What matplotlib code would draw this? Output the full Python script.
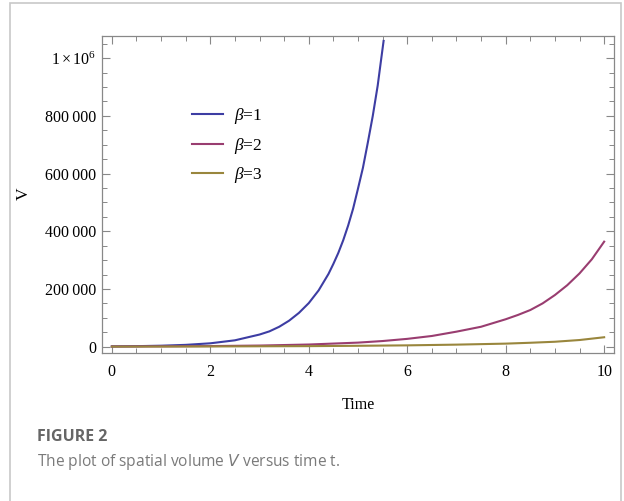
import matplotlib
matplotlib.use("Agg")
import matplotlib.pyplot as plt
from matplotlib.patches import Rectangle
from matplotlib.ticker import MultipleLocator, FixedLocator

# values
blue_t = [0, 0.5, 1, 1.5, 2, 2.5, 3, 3.2, 3.4, 3.6, 3.8, 4.0, 4.2, 4.4, 4.5, 4.6, 4.7, 4.8, 4.9,
          5.0, 5.1, 5.2, 5.3, 5.4, 5.45, 5.52]
blue_v = [900, 1700, 3300, 6200, 11600, 22000, 42000, 53000, 69000, 90000, 117000, 151000, 195000,
          252000, 287000, 325000, 369000, 420000, 478000, 548000, 620000, 708000, 800000, 905000,
          970000, 1060000]
red_t = [0, 1, 2, 3, 4, 5, 5.5, 6, 6.5, 7, 7.5, 8, 8.25, 8.5, 8.75, 9, 9.25, 9.5, 9.75, 10]
red_v = [550, 1050, 2000, 3800, 7400, 14000, 19500, 27000, 37000, 52000, 69000, 95000, 110000,
         127000, 150000, 179000, 213000, 254000, 303000, 364000]
yel_t = [0, 2, 4, 5, 6, 7, 8, 8.5, 9, 9.5, 10]
yel_v = [200, 700, 1800, 3000, 4500, 7000, 10500, 13500, 17000, 23000, 32600]

labels = [r"$\beta$=1", r"$\beta$=2", r"$\beta$=3"]
colors = ["#3d3da3", "#993d70", "#99863d"]

y_ticks = [0, 200000, 400000, 600000, 800000, 1000000]
y_tick_labels = ["0", "200\u2009000", "400\u2009000", "600\u2009000", "800\u2009000", r"$1\times10^{6}$"]

plt.rcParams["font.family"] = ["Liberation Serif", "DejaVu Serif"]
plt.rcParams["mathtext.fontset"] = "custom"
plt.rcParams["mathtext.rm"] = "Liberation Serif"
plt.rcParams["mathtext.it"] = "Liberation Serif:italic"

fig = plt.figure(figsize=(6.24, 5.01), dpi=100)
fig.patches.append(Rectangle((10 / 624, -0.05), 611 / 624, 1 - 3 / 501 + 0.05, transform=fig.transFigure,
                             fill=False, edgecolor="#c8c8c8", linewidth=1.2))

ax = fig.add_axes([102 / 624, 1 - 353 / 501, 512 / 624, 317 / 501])
series = [(blue_t, blue_v), (red_t, red_v), (yel_t, yel_v)]
for (t, v), c, lab in zip(series, colors, labels):
    ax.plot(t, v, color=c, linewidth=1.5, label=lab)

ax.set_xlim(-0.2, 10.2)
ax.set_ylim(-22000, 1077000)

ax.xaxis.set_major_locator(MultipleLocator(2))
ax.xaxis.set_minor_locator(MultipleLocator(0.5))
ax.yaxis.set_major_locator(FixedLocator(y_ticks))
ax.yaxis.set_minor_locator(MultipleLocator(50000))
ax.set_yticklabels(y_tick_labels)

ax.tick_params(which="both", direction="in", top=True, right=True, color="#888888", labelsize=11.5)
ax.tick_params(which="major", length=6, width=0.8)
ax.tick_params(which="minor", length=3.5, width=0.7)
ax.tick_params(axis="x", pad=8)
ax.tick_params(axis="y", pad=4)
for s in ax.spines.values():
    s.set_color("#888888")
    s.set_linewidth(0.9)

ax.set_xlabel("Time", fontsize=11.5, labelpad=12)
ax.set_ylabel("V", fontsize=12.5)
ax.yaxis.set_label_coords(-70 / 512, (353 - 194) / 317)

ax.legend(loc="upper left", bbox_to_anchor=(0.145, 0.828), frameon=False, fontsize=12.5,
          handlelength=1.8, handletextpad=0.6, labelspacing=0.55)

fig.text(37 / 624, 1 - 437 / 501, "FIGURE 2", family="Open Sans", fontweight="bold",
         fontsize=11.5, color="#666666", va="center")
fig.text(37 / 624, 1 - 462 / 501, "The plot of spatial volume $\\mathit{V}$ versus time t.",
         family="Open Sans", fontsize=11.2, color="#7a7a7a", va="center", math_fontfamily="dejavusans")

fig.savefig("out.png", dpi=100)
